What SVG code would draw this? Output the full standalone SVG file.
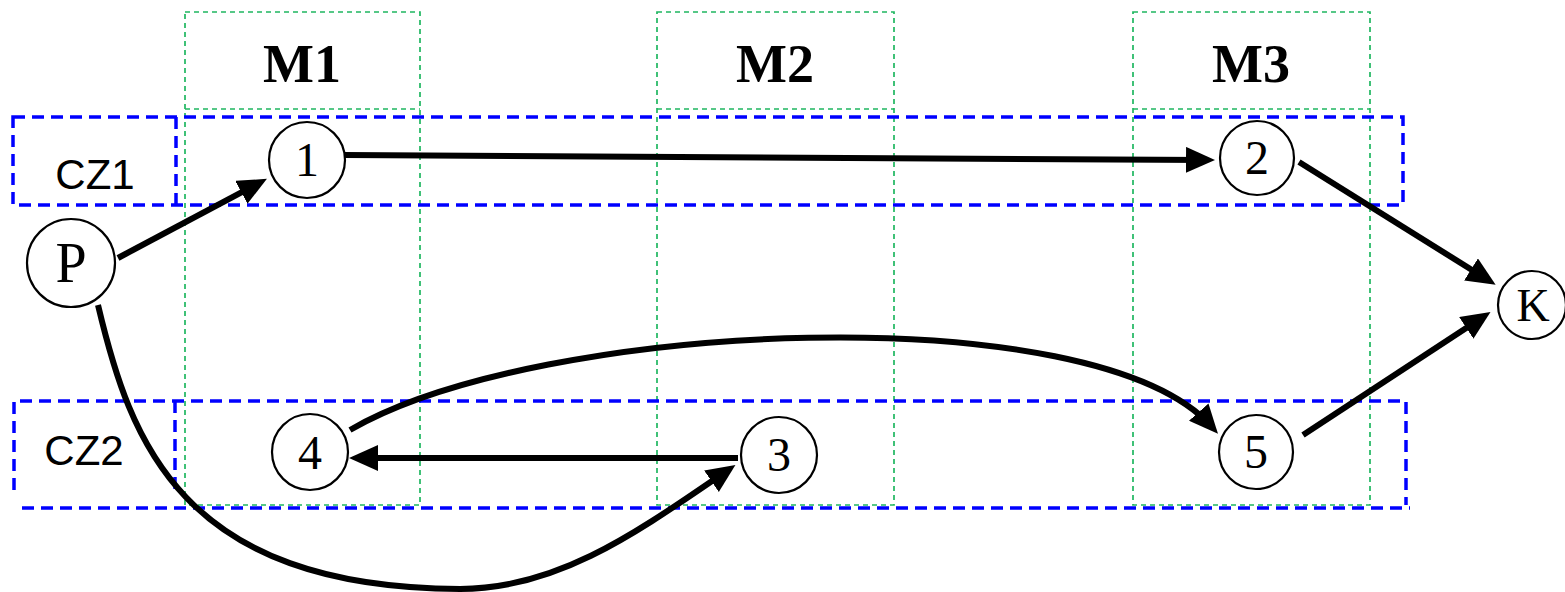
<svg xmlns="http://www.w3.org/2000/svg" width="1565" height="592" viewBox="0 0 1565 592">
<style>
.g{fill:none;stroke:#1FB760;stroke-width:1.7;stroke-dasharray:5 4}
.b{fill:none;stroke:#0000FF;stroke-width:3.5;stroke-dasharray:12 7}
.n{fill:#fff;stroke:#000;stroke-width:2.2}
.t{font-family:"Liberation Serif","Times New Roman",serif;font-size:48px;text-anchor:middle;fill:#000}
.m{font-family:"Liberation Serif","Times New Roman",serif;font-size:54px;font-weight:bold;text-anchor:middle;fill:#000}
.cz{font-family:"Liberation Sans",Arial,sans-serif;font-size:42px;text-anchor:middle;fill:#000}
.e{fill:none;stroke:#000;stroke-width:6;marker-end:url(#ah)}
</style>
<defs>
<marker id="ah" markerUnits="userSpaceOnUse" markerWidth="29" markerHeight="26" viewBox="0 0 29 26" refX="20" refY="13" orient="auto">
<path d="M0,0 L29,13 L0,26 z" fill="#000"/>
</marker>
</defs>
<rect width="1565" height="592" fill="#fff"/>
<g id="machines">
<g id="M1col"><rect class="g" x="185" y="12" width="235" height="493"/><line class="g" x1="185" y1="109" x2="420" y2="109"/><text class="m" x="302" y="82">M1</text></g>
<g id="M2col"><rect class="g" x="657" y="12" width="237" height="493"/><line class="g" x1="657" y1="109" x2="894" y2="109"/><text class="m" x="775" y="82">M2</text></g>
<g id="M3col"><rect class="g" x="1133" y="12" width="237" height="493"/><line class="g" x1="1133" y1="109" x2="1370" y2="109"/><text class="m" x="1251" y="82">M3</text></g>
</g>
<g id="zones">
<g id="CZ1"><rect class="b" x="13" y="117" width="1390" height="88"/><line class="b" x1="176" y1="117" x2="176" y2="205"/><text class="cz" x="95" y="189">CZ1</text></g>
<g id="CZ2"><path class="b" d="M14,490 V401 H1406 V505"/><line class="b" x1="22" y1="508" x2="1410" y2="508"/><line class="b" x1="175" y1="401" x2="175" y2="492"/><text class="cz" x="84" y="465">CZ2</text></g>
</g>
<g id="connectors">
<path class="e" d="M118,258 L259,183"/>
<path class="e" d="M345,155 L1206,160"/>
<path class="e" d="M1299,162 L1488,280"/>
<path class="e" d="M1303,435 L1483,317"/>
<path class="e" d="M738,458 L358,458"/>
<path class="e" d="M350,430 C540,320 1095,295 1212,427"/>
<path class="e" d="M98,305 C130,440 180,588 460,589 C560,589 640,530 728,470"/>
</g>
<g id="nodeP"><circle class="n" cx="71" cy="263" r="44"/><text class="t" x="71" y="282" style="font-size:56px">P</text></g>
<g id="node1"><circle class="n" cx="307" cy="160" r="38"/><text class="t" x="307" y="176">1</text></g>
<g id="node2"><circle class="n" cx="1257" cy="158" r="37"/><text class="t" x="1257" y="174">2</text></g>
<g id="node3"><circle class="n" cx="779" cy="455" r="38"/><text class="t" x="779" y="471">3</text></g>
<g id="node4"><circle class="n" cx="310" cy="452" r="38"/><text class="t" x="310" y="469">4</text></g>
<g id="node5"><circle class="n" cx="1256" cy="452" r="37"/><text class="t" x="1256" y="468">5</text></g>
<g id="nodeK"><circle class="n" cx="1532" cy="305" r="34"/><text class="t" x="1533" y="321" style="font-size:46px">K</text></g>
</svg>
